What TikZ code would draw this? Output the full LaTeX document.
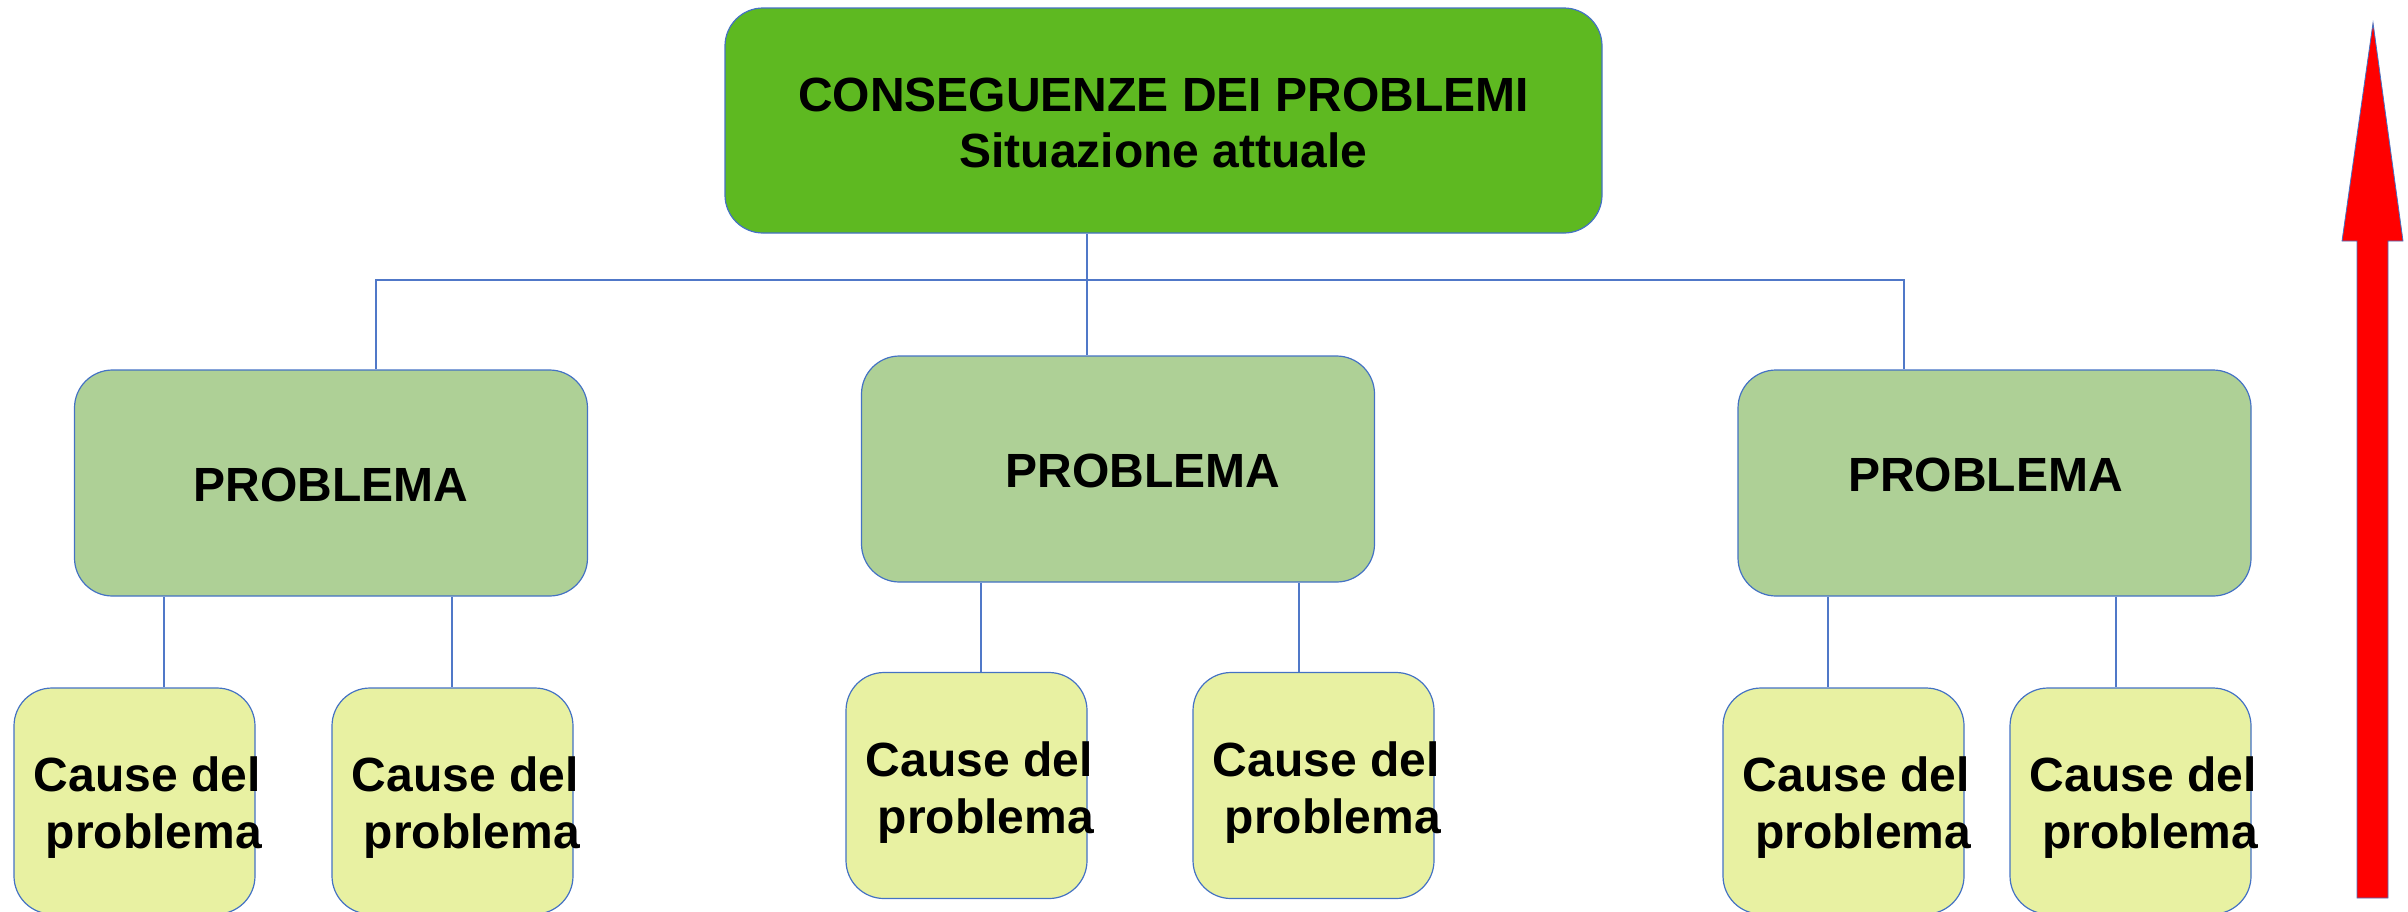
\documentclass[tikz,border=0pt]{standalone}
\usepackage{fontspec}
\setmainfont{Liberation Sans}
\definecolor{topgreen}{RGB}{94,185,33}
\definecolor{probgreen}{RGB}{174,208,150}
\definecolor{causeyellow}{RGB}{232,241,162}
\definecolor{boxline}{RGB}{68,114,196}
\definecolor{connblue}{RGB}{80,120,200}
\newcommand{\diafont}{\fontsize{48}{57}\selectfont\bfseries}
\newcommand{\diatopfont}{\fontsize{48}{56}\selectfont\bfseries}
\begin{document}
\begin{tikzpicture}[x=1pt,y=-1pt,
  box/.style={draw=boxline, line width=1.2pt, rounded corners=38pt, inner sep=0pt},
  topbox/.style={box, fill=topgreen, minimum width=877pt, minimum height=225pt},
  probbox/.style={box, fill=probgreen, minimum width=513pt, minimum height=226pt},
  causebox/.style={box, fill=causeyellow, minimum width=241pt, minimum height=226pt},
  lbl/.style={font=\diafont, align=center, inner sep=0pt},
  toplbl/.style={lbl, font=\diatopfont},
  conn/.style={draw=connblue, line width=1.5pt}]
\useasboundingbox (0,0) rectangle (2408,911);

% boxes
\node[topbox] (top) at (1163.5,120.5) {};
\node[probbox] (P1) at (331,483) {};
\node[probbox] (P2) at (1118,469) {};
\node[probbox] (P3) at (1994.5,483) {};
\node[causebox] (L1) at (134.5,801) {};
\node[causebox] (L2) at (452.5,801) {};
\node[causebox] (M1) at (966.5,785.5) {};
\node[causebox] (M2) at (1313.5,785.5) {};
\node[causebox] (R1) at (1843.5,801) {};
\node[causebox] (R2) at (2130.5,801) {};

% texts
\node[toplbl] (ttop) at ([shift={(0,2.5)}]top.center) {CONSEGUENZE DEI PROBLEMI\\Situazione attuale};
\node[lbl] (tP1) at ([shift={(0,2)}]P1.center) {PROBLEMA};
\node[lbl] (tP2) at ([shift={(25,2)}]P2.center) {PROBLEMA};
\node[lbl] (tP3) at ([shift={(-9,-8)}]P3.center) {PROBLEMA};
\foreach \b in {L1,L2,M1,M2,R1,R2}{
  \node[lbl] (t\b) at ([shift={(19.5,7)}]\b.center) {Cause del\kern0.278em\\problema};
}

% connectors
\coordinate (hub) at (1087,280);
\coordinate (busL) at (376,280);
\coordinate (busR) at (1904,280);
\draw[conn] (hub |- top.south) -- (hub |- P2.north);
\draw[conn] (busL |- P1.north) -- (busL) -- (busR) -- (busR |- P3.north);
\coordinate (cL1) at (164,0);
\coordinate (cL2) at (452,0);
\coordinate (cM1) at (981,0);
\coordinate (cM2) at (1299,0);
\coordinate (cR1) at (1828,0);
\coordinate (cR2) at (2116,0);
\draw[conn] (cL1 |- P1.south) -- (cL1 |- L1.north);
\draw[conn] (cL2 |- P1.south) -- (cL2 |- L2.north);
\draw[conn] (cM1 |- P2.south) -- (cM1 |- M1.north);
\draw[conn] (cM2 |- P2.south) -- (cM2 |- M2.north);
\draw[conn] (cR1 |- P3.south) -- (cR1 |- R1.north);
\draw[conn] (cR2 |- P3.south) -- (cR2 |- R2.north);

% red arrow
\draw[fill=red, draw=boxline, line width=0.8pt]
  (2357,898) -- (2357,241) -- (2342,241) -- (2373,23) -- (2403,241)
  -- (2388,241) -- (2388,898) -- cycle;
\end{tikzpicture}
\end{document}
